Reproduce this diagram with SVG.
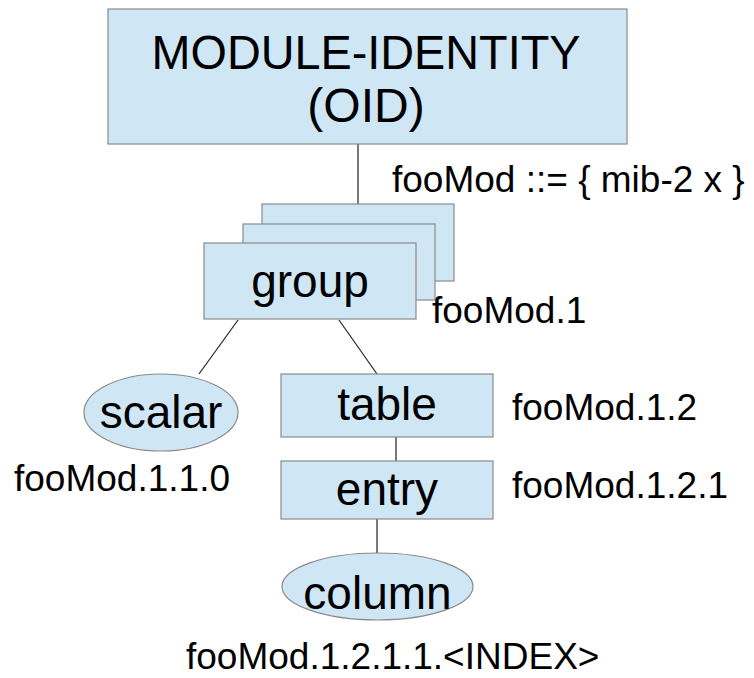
<svg xmlns="http://www.w3.org/2000/svg" width="754" height="678" viewBox="0 0 754 678">
<style>
.n{fill:#cfe6f4;stroke:#8a8a8a;stroke-width:1.2}
.c{stroke:#222;stroke-width:1.2;fill:none}
text{font-family:"Liberation Sans",Arial,sans-serif;fill:#000}
.t{font-size:46px;text-anchor:middle}
.h{font-size:48px;text-anchor:middle}
.l{font-size:37px}
</style>
<rect width="754" height="678" fill="#fff"/>
<g id="connectors">
<line class="c" x1="358" y1="144" x2="358" y2="204"/>
<line class="c" x1="238" y1="320" x2="199" y2="374"/>
<line class="c" x1="339" y1="320" x2="377" y2="374"/>
<line class="c" x1="396" y1="437" x2="396" y2="461"/>
<line class="c" x1="377" y1="519" x2="377" y2="553"/>
</g>
<g id="module">
<rect class="n" x="108" y="9" width="519" height="135"/>
<text class="h" x="366" y="69" textLength="429" lengthAdjust="spacingAndGlyphs">MODULE-IDENTITY</text>
<text class="h" x="366" y="122">(OID)</text>
</g>
<text class="l" x="392" y="192">fooMod ::= { mib-2 x }</text>
<g id="group">
<rect class="n" x="262" y="204" width="192" height="77"/>
<rect class="n" x="243" y="224" width="192" height="76"/>
<rect class="n" x="204" y="243" width="212" height="76"/>
<text class="t" x="310" y="297">group</text>
</g>
<text class="l" x="432" y="323">fooMod.1</text>
<g id="scalar">
<ellipse class="n" cx="161" cy="412.5" rx="77" ry="38.5"/>
<text class="t" x="161" y="428">scalar</text>
</g>
<text class="l" x="14" y="491">fooMod.1.1.0</text>
<g id="table">
<rect class="n" x="281" y="374" width="212" height="63"/>
<text class="t" x="387" y="420">table</text>
</g>
<text class="l" x="512" y="420">fooMod.1.2</text>
<g id="entry">
<rect class="n" x="281" y="461" width="212" height="58"/>
<text class="t" x="387" y="505">entry</text>
</g>
<text class="l" x="512" y="498">fooMod.1.2.1</text>
<g id="column">
<ellipse class="n" cx="377.5" cy="586.5" rx="95.5" ry="33.5"/>
<text class="t" x="377.5" y="609">column</text>
</g>
<text class="l" x="186" y="669">fooMod.1.2.1.1.&lt;INDEX&gt;</text>
</svg>
